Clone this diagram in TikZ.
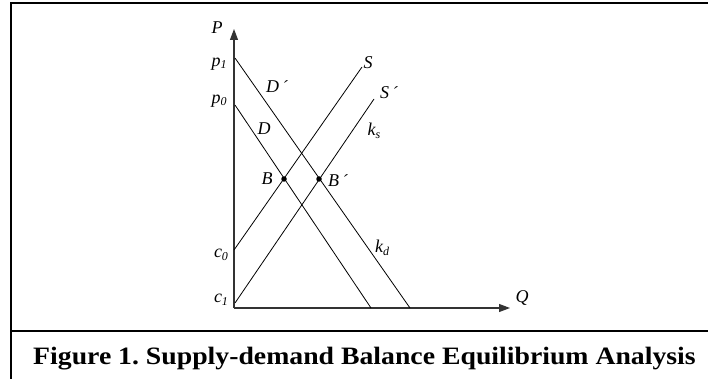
\documentclass[tikz,border=0pt]{standalone}
\usepackage{fontspec}
\setmainfont{Liberation Serif}
\usetikzlibrary{arrows.meta}
\newcommand{\acu}{\,\raisebox{0pt}{\fontsize{17}{17}\selectfont\char"00B4}}
\newcommand{\sbs}[1]{\raisebox{-2.5pt}{\fontsize{12}{12}\selectfont\itshape #1}}
\begin{document}
\begin{tikzpicture}[x=1pt,y=-1pt,
  frameline/.style={line width=2pt},
  axisline/.style={line width=1.1pt, draw=black!80, -{Triangle[length=11pt,width=8pt]}},
  curve/.style={line width=0.8pt},
  lab/.style={font=\fontsize{18}{18}\selectfont\itshape, inner sep=0pt},
  dot/.style={circle, fill=black, inner sep=0pt, minimum size=5.5pt},
  caption/.style={font=\bfseries\fontsize{25}{25}\selectfont, inner sep=0pt, anchor=base west, xscale=1.11}]
\useasboundingbox (0,0) rectangle (708,379);
% frame
\coordinate (ftl) at (11,3);
\coordinate (ftr) at (708,3);
\coordinate (fbl) at (11,379);
\coordinate (fml) at (11,331);
\coordinate (fmr) at (708,331);
\draw[frameline] (fbl) -- (ftl) -- (ftr);
\draw[frameline] (fml) -- (fmr);
% axes
\coordinate (O) at (234,308);
\coordinate (Ptip) at (234,29);
\coordinate (Qtip) at (510,308);
\draw[axisline] (O) -- (Ptip);
\draw[axisline] (O) -- (Qtip);
% curves
\coordinate (d1a) at (235,58);  \coordinate (d1b) at (410,308);
\coordinate (d0a) at (235,105); \coordinate (d0b) at (371,308);
\coordinate (s0a) at (234,250); \coordinate (s0b) at (362,67);
\coordinate (s1a) at (235,303); \coordinate (s1b) at (374,99);
\draw[curve] (d1a) -- (d1b);
\draw[curve] (d0a) -- (d0b);
\draw[curve] (s0a) -- (s0b);
\draw[curve] (s1a) -- (s1b);
% equilibrium points
\node[dot] (B) at (284,179) {};
\node[dot] (Bp) at (319,179) {};
% labels
\node[lab] (lP) at (217,28) {P};
\node[lab] (lQ) at (522,298) {Q};
\node[lab] (lp1) at (219,64) {p\sbs{1}};
\node[lab] (lp0) at (219,101) {p\sbs{0}};
\node[lab] (lc0) at (221,255) {c\sbs{0}};
\node[lab] (lc1) at (221,300) {c\sbs{1}};
\node[lab] (lDp) at (277,87) {D\acu};
\node[lab] (lD) at (264,129) {D};
\node[lab] (lS) at (368,63) {S};
\node[lab] (lSp) at (389,93) {S\acu};
\node[lab] (lks) at (374,131) {k\sbs{s}};
\node[lab] (lkd) at (382,248) {k\sbs{d}};
\node[lab] (lB) at (267,179) {B};
\node[lab] (lBp) at (338,181) {B\acu};
% caption
\node[caption] (cap) at (33,364) {Figure 1.\ Supply-demand Balance Equilibrium Analysis};
\end{tikzpicture}
\end{document}
